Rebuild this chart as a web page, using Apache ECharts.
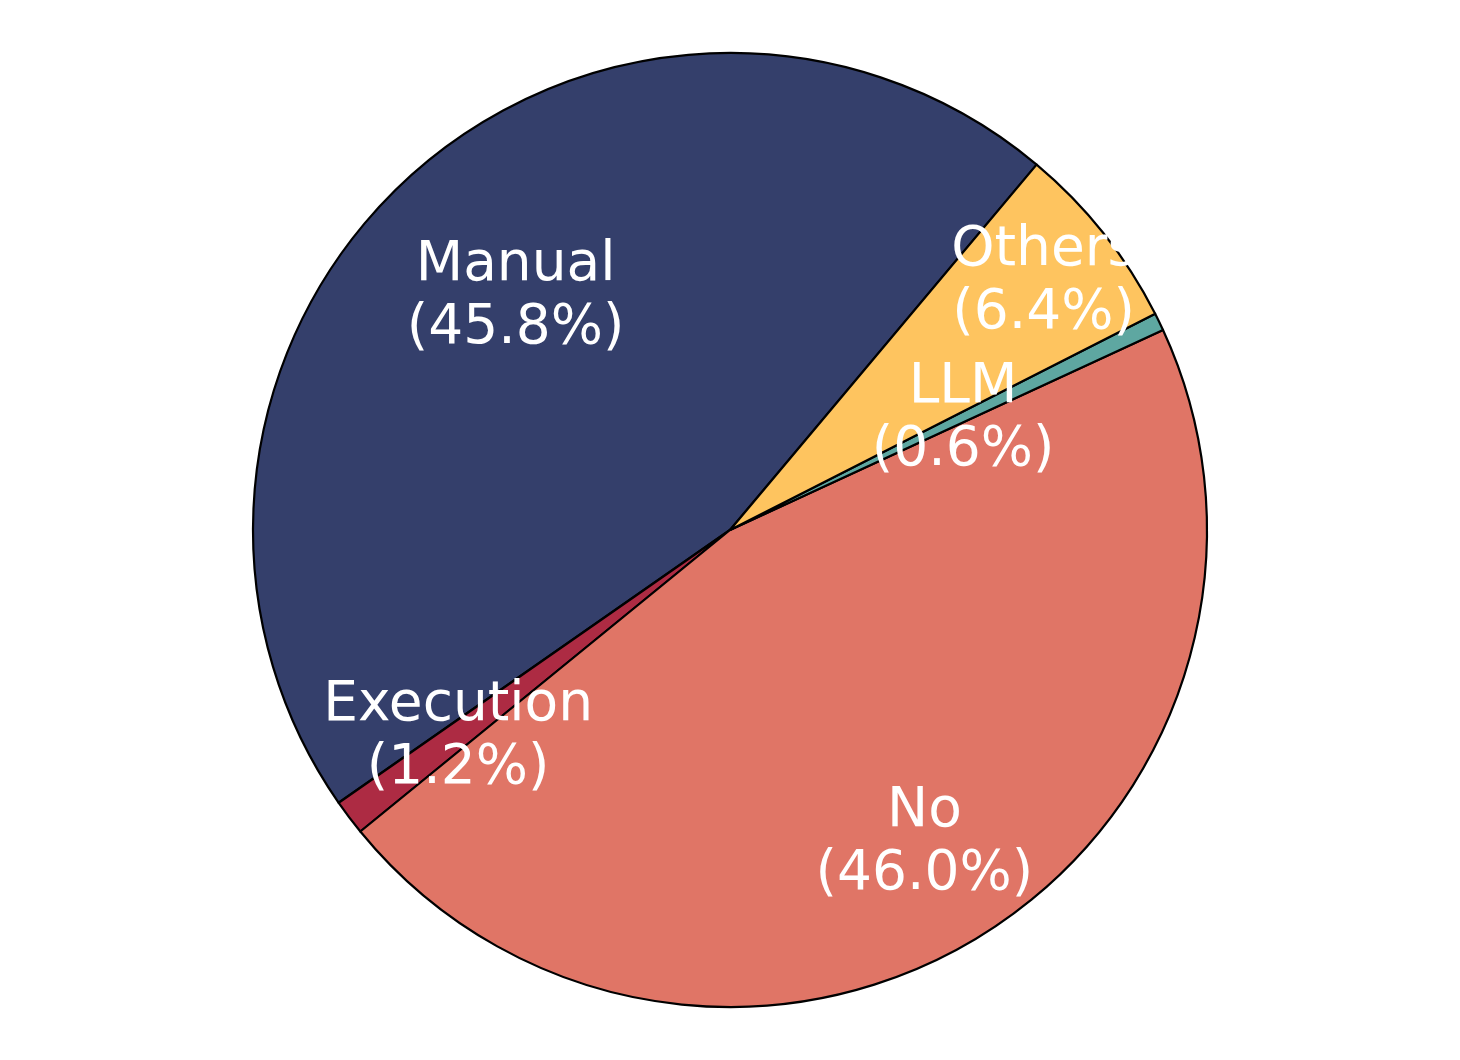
<!DOCTYPE html>
<html>
<head>
<meta charset="utf-8">
<script src="https://cdn.jsdelivr.net/npm/echarts@6/dist/echarts.min.js"></script>
<style>
  html, body { margin: 0; padding: 0; background: #fff; }
  #chart { width: 1460px; height: 1060px; }
</style>
</head>
<body>
<div id="chart"></div>
<script>
// slices in drawing order (counterclockwise from 50 deg)
const names = ["Manual", "Execution", "No", "LLM", "Others"];
const shares = [45.8, 1.2, 46.0, 0.6, 6.4];

const colors = ["#343f6b", "#ad2b43", "#e07566", "#5ea7a1", "#fec45f"];
// how far out each label sits, as a fraction of the radius
const labelRadius = [0.666, 0.714, 0.769, 0.543, 0.84];

const startAngle = 50;
const radiusPct = 0.9;

const chart = echarts.init(document.getElementById("chart"), null, {
  renderer: "canvas",
});

const total = shares.reduce((a, b) => a + b, 0);
function midAngle(i) {
  let before = 0;
  for (let k = 0; k < i; k++) before += shares[k];
  return startAngle + ((before + shares[i] / 2) / total) * 360;
}

const option = {
  animation: false,
  backgroundColor: "#fff",
  series: [
    {
      type: "pie",
      center: ["50%", "50%"],
      radius: ["0%", radiusPct * 100 + "%"],
      startAngle: startAngle,
      clockwise: false,
      avoidLabelOverlap: false,
      minAngle: 0,
      itemStyle: {
        borderColor: "#000",
        borderWidth: 2.2,
      },
      label: {
        show: true,
        position: "inside",
        color: "#fff",
        fontFamily: "DejaVu Sans",
        fontSize: 55,
        lineHeight: 63,
        align: "center",
        formatter: (p) => p.name + "\n(" + p.value.toFixed(1) + "%)",
      },
      labelLine: { show: false },
      emphasis: { disabled: true },
      labelLayout: (params) => {
        const w = chart.getWidth();
        const h = chart.getHeight();
        const r = (Math.min(w, h) / 2) * radiusPct;
        const a = (midAngle(params.dataIndex) * Math.PI) / 180;
        const rr = r * labelRadius[params.dataIndex];
        return {
          x: w / 2 + rr * Math.cos(a),
          y: h / 2 - rr * Math.sin(a) + 2,
          align: "center",
          verticalAlign: "middle",
        };
      },
      data: names.map((n, i) => ({
        name: n,
        value: shares[i],
        itemStyle: { color: colors[i] },
      })),
    },
  ],
};
chart.setOption(option);
</script>
</body>
</html>
